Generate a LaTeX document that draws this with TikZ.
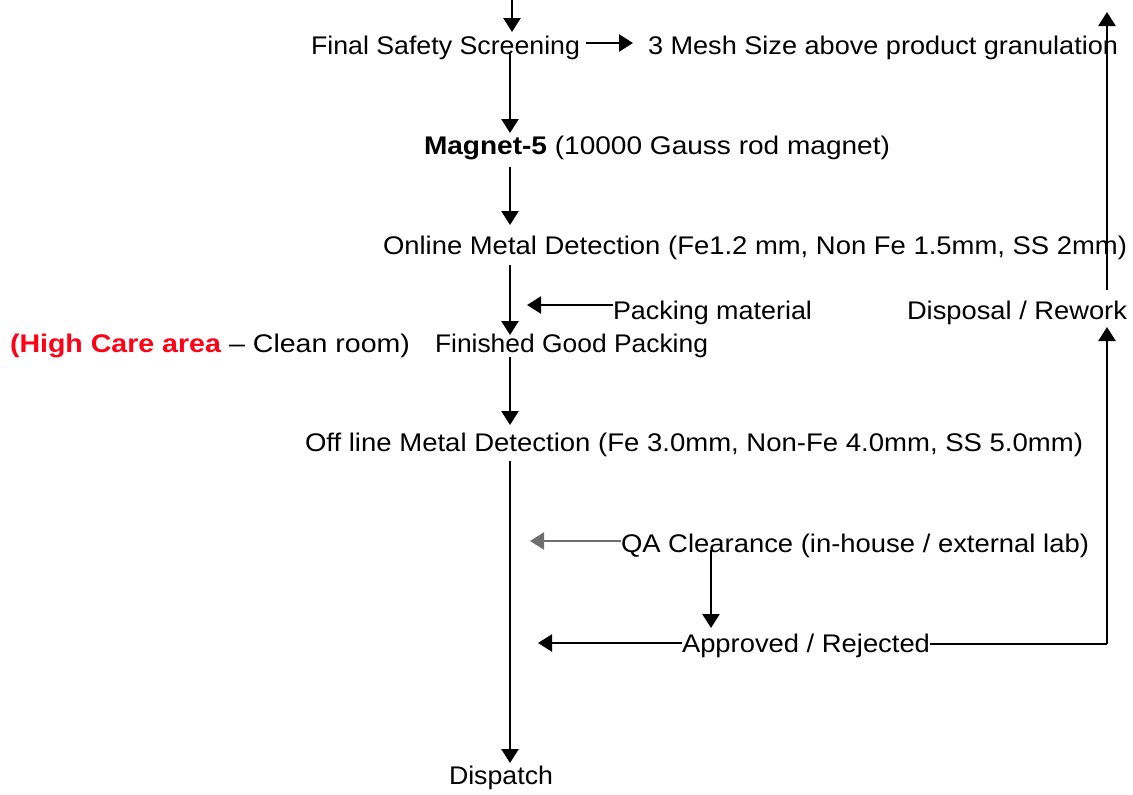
\documentclass[tikz,border=0pt]{standalone}
\usepackage{fontspec}
\setmainfont{Liberation Sans}
\usetikzlibrary{arrows.meta}
\definecolor{hcred}{RGB}{255,0,20}
\definecolor{qagray}{RGB}{110,110,110}
\newcommand{\fitto}[2]{\resizebox{#1pt}{\height}{#2}}
\tikzset{
  lbl/.style={anchor=base west, inner sep=0pt, outer sep=0pt, text height=18pt, text depth=0pt,
              font=\fontsize{25.5}{28}\selectfont},
  arr/.style={line width=2.4pt, -{Triangle[length=14pt,width=17pt]}},
  ln/.style={line width=2.2pt}
}
\begin{document}
\begin{tikzpicture}[x=1pt,y=-1pt]
\useasboundingbox (0,0) rectangle (1133,795);
% nodes
\node[lbl] (fss)  at (311,54)  {\fitto{269}{Final Safety Screening}};
\node[lbl] (mesh) at (648,54)  {\fitto{470}{3 Mesh Size above product granulation}};
\node[lbl] (mag)  at (424,154) {\fitto{466}{\textbf{Magnet-5} (10000 Gauss rod magnet)}};
\node[lbl] (onl)  at (383,254) {\fitto{744}{Online Metal Detection (Fe1.2 mm, Non Fe 1.5mm, SS 2mm)}};
\node[lbl] (pack) at (613,319) {\fitto{199}{Packing material}};
\node[lbl] (dr)   at (907,319) {\fitto{220}{Disposal / Rework}};
\node[lbl] (hc)   at (10,352)  {\fitto{400}{\textcolor{hcred}{\textbf{(High Care area}} -- Clean room)}};
\node[lbl] (fin)  at (435,352) {\fitto{273}{Finished Good Packing}};
\node[lbl] (off)  at (305,451) {\fitto{778}{Off line Metal Detection (Fe 3.0mm, Non-Fe 4.0mm, SS 5.0mm)}};
\node[lbl] (qa)   at (621,552) {\fitto{468}{QA Clearance (in-house / external lab)}};
\node[lbl] (app)  at (682,652) {\fitto{248}{Approved / Rejected}};
\node[lbl] (dis)  at (449,784) {\fitto{104}{Dispatch}};
% trunk coordinates
\coordinate (tr) at (510,0);
\coordinate (topin) at (512,0);
\coordinate (rtop) at (1107,12);
% main trunk
\draw[arr] (topin) -- ([yshift=4pt]fss.north -| topin);
\draw[arr] ([yshift=1pt]fss.south -| tr) -- ([yshift=3pt]mag.north -| tr);
\draw[arr] ([yshift=-13pt]mag.south -| tr) -- ([yshift=11pt]onl.north -| tr);
\draw[arr] ([yshift=-11pt]onl.south -| tr) -- ([yshift=-1pt]fin.north -| tr);
\draw[arr] ([yshift=-5pt]fin.south -| tr) -- ([yshift=8pt]off.north -| tr);
\draw[arr] ([yshift=-10pt]off.south -| tr) -- ([yshift=3pt]dis.north -| tr);
% side arrows
\draw[arr] ([xshift=6pt,yshift=2pt]fss.east) -- ([xshift=-15pt,yshift=2pt]mesh.west);
\draw[arr] ([yshift=5pt]pack.west) -- ([xshift=17pt,yshift=5pt]pack.west -| tr);
\draw[arr, draw=qagray] ([yshift=2pt]qa.west) -- ([xshift=20pt,yshift=2pt]qa.west -| tr);
\draw[arr] (app.west) -- ([xshift=28pt]app.west -| tr);
\draw[arr] ([xshift=90pt,yshift=2pt]qa.south west) -- ([xshift=29pt,yshift=6pt]app.north west);
% reject loop
\draw[ln] ([yshift=-1pt]app.east) -- ([yshift=-1pt]app.east -| rtop);
\draw[arr] ([yshift=-1pt]app.east -| rtop) -- ([yshift=-8pt]dr.south -| rtop);
\draw[arr] ([yshift=11pt]dr.north -| rtop) -- (rtop);
\end{tikzpicture}
\end{document}
